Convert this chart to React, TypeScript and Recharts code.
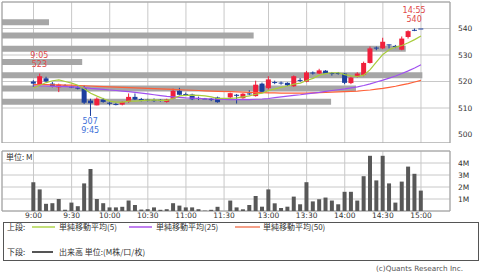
import React from 'react';
import {
  ComposedChart,
  BarChart,
  Bar,
  Line,
  XAxis,
  YAxis,
  CartesianGrid,
  ReferenceArea,
  ReferenceDot,
} from 'recharts';

// 5-minute slots: morning session, 11:30 close slot, afternoon session
const times = [
  '9:00', '9:05', '9:10', '9:15', '9:20', '9:25', '9:30', '9:35', '9:40', '9:45',
  '9:50', '9:55', '10:00', '10:05', '10:10', '10:15', '10:20', '10:25', '10:30', '10:35',
  '10:40', '10:45', '10:50', '10:55', '11:00', '11:05', '11:10', '11:15', '11:20', '11:25',
  '11:30',
  '12:30', '12:35', '12:40', '12:45', '12:50', '12:55', '13:00', '13:05', '13:10',
  '13:15', '13:20', '13:25', '13:30', '13:35', '13:40', '13:45', '13:50', '13:55', '14:00',
  '14:05', '14:10', '14:15', '14:20', '14:25', '14:30', '14:35', '14:40', '14:45', '14:50',
  '14:55', '15:00',
];

const open = [
  520, 519, 521.2, 519.2, 517.8, 518.5, 518.1, 517.8, 517.5, 512.8,
  511, 513.2, 512, 511.5, 511.3, 512.3, 514.2, 513.4, 513.2, 513,
  513.1, 512.3, 513.5, 516.5, 515.3, 515.1, 513.8, 513.6, 513.5, 514,
  null,
  514, 515, 513.7, 515.5, 514.5, 519.2, 517.5, 519.8, 519.6,
  519.5, 518.2, 520.6, 519.9, 523.4, 523, 524.1, 523.2, 523.2, 523,
  519.4, 521.8, 522.5, 527, 532.8, 532.5, 534, 533.4, 532, 536.8,
  539.5, 540,
];
const high = [
  520.5, 523, 521.8, 519.8, 519.2, 519, 518.5, 518.2, 518.5, 513.5,
  514, 513.8, 512.5, 512, 512.5, 515.5, 515.5, 513.8, 513.5, 513.6,
  513.4, 513.5, 517.3, 517.6, 515.8, 515.4, 514.3, 513.8, 513.8, 514.3,
  null,
  515.8, 515.3, 515.6, 516.7, 520.3, 519.6, 522, 520.3, 520,
  519.7, 522.3, 521.3, 524, 523.8, 524.8, 524.3, 523.6, 523.6, 523.2,
  521.8, 523.5, 527.5, 533.2, 533.2, 536.5, 534, 533.8, 537, 539.3,
  540, 540,
];
const low = [
  518, 518.5, 519.8, 517.8, 516, 518, 517.5, 517, 511.5, 507,
  511, 512, 511, 511, 511, 512, 513, 512.5, 512.5, 512.3,
  512.4, 512, 513.3, 514.8, 514.8, 513, 513, 513.4, 512.6, 512,
  null,
  513.8, 511.7, 513.5, 514.8, 514.3, 515.8, 517, 519, 518.8,
  518.3, 518, 519.8, 519.7, 522.6, 522.8, 522.8, 522.2, 522.6, 519,
  519, 521.5, 522, 526.8, 531.8, 532.2, 532.5, 532.6, 531.8, 536.2,
  539, 540,
];
const close = [
  519.2, 522, 520, 518.3, 518.8, 518.2, 517.8, 517.3, 512, 511.8,
  513.5, 512.3, 511.6, 511.3, 512.2, 514.2, 513.2, 512.8, 512.8, 512.8,
  512.7, 513.2, 516.5, 515, 515, 513.3, 513.4, 513.5, 513, 512.2,
  null,
  515.6, 514.6, 515.4, 515.2, 518.8, 516.1, 520.8, 519.6, 519.3,
  518.6, 522, 520.3, 523.4, 523.1, 524.2, 523, 523, 523, 519.5,
  521.5, 523, 527, 532.5, 532.5, 535, 533.8, 533.2, 536.2, 539,
  539.2, 540,
];

// volume, millions of shares
const volume = [
  2.4, 1.8, 0.6, 0.65, 1.0, 0.1, 0.7, 0.4, 2.3, 3.5,
  1.0, 0.65, 0.3, 0.3, 0.35, 0.87, 0.5, 0.12, 0.15, 0.3,
  0.1, 0.15, 0.65, 0.45, 0.3, 0.3, 0.15, 0.03, 0.1, 0.35,
  null,
  0.87, 0.3, 0.14, 0.5, 1.26, 0.36, 1.8, 0.64, 0.25,
  0.36, 1.2, 0.56, 2.4, 0.8, 0.98, 1.12, 0.87, 0.56, 1.6,
  1.6, 0.87, 2.9, 4.6, 2.55, 4.6, 2.3, 0.7, 2.45, 3.7,
  3.1, 1.7,
];

const ma5 = [
  517.6, 518.6, 519.6, 520.3, 520.6, 520.0, 519.4, 518.6, 517.3, 515.6,
  514.5, 513.5, 512.6, 512.2, 512.2, 512.6, 512.6, 512.8, 513.0, 513.1,
  512.9, 512.9, 513.6, 514.6, 514.8, 514.9, 514.8, 514.6, 514.2, 513.6,
  null,
  513.6, 513.8, 514.2, 514.6, 515.2, 515.6, 516.6, 517.2, 517.8,
  518.3, 519.0, 519.4, 520.4, 521.2, 522.4, 523.0, 523.3, 523.3, 522.6,
  522.1, 521.9, 522.4, 524.5, 527.4, 530.2, 532.0, 533.0, 533.6, 534.6,
  535.8, 537.2,
];
const ma25 = [
  518.3, 518.3, 518.3, 518.2, 518.2, 518.1, 518.0, 517.9, 517.7, 517.4,
  517.2, 517.0, 516.8, 516.6, 516.4, 516.2, 515.9, 515.6, 515.3, 515.0,
  514.7, 514.4, 514.2, 514.0, 513.8, 513.7, 513.6, 513.5, 513.4, 513.3,
  null,
  513.2, 513.2, 513.2, 513.2, 513.3, 513.4, 513.6, 513.9, 514.2,
  514.5, 514.8, 515.0, 515.3, 515.6, 515.9, 516.3, 516.6, 516.9, 517.2,
  517.6, 518.0, 518.5, 519.1, 519.8, 520.5, 521.3, 522.1, 523.0, 524.0,
  525.1, 526.3,
];
const ma50 = [
  518.8, 518.8, 518.8, 518.7, 518.7, 518.6, 518.6, 518.5, 518.4, 518.3,
  518.2, 518.1, 518.0, 517.9, 517.8, 517.7, 517.6, 517.5, 517.4, 517.3,
  517.2, 517.1, 517.0, 516.9, 516.8, 516.7, 516.6, 516.5, 516.4, 516.3,
  null,
  516.2, 516.1, 516.0, 515.9, 515.8, 515.8, 515.7, 515.7, 515.6,
  515.6, 515.6, 515.6, 515.6, 515.7, 515.8, 515.9, 516.0, 516.1, 516.2,
  516.3, 516.4, 516.6, 516.8, 517.1, 517.4, 517.8, 518.2, 518.7, 519.2,
  519.8, 520.4,
];

// volume-by-price profile (5 yen buckets), millions of shares
const profilePrice = [542.5, 537.5, 532.5, 527.5, 522.5, 517.5, 512.5];
const profileVol = [1.7, 9.1, 14.6, 2.9, 15.2, 12.8, 11.9];

const timeTicks = [0, 6, 12, 18, 24, 30, 37, 43, 49, 55, 61];
const priceTicks = [500, 510, 520, 530, 540];
const volTicks = [1, 2, 3, 4];

// high / low annotations
const marks = [
  { i: 1, p: 523, t: '9:05', kind: 'high' },
  { i: 9, p: 507, t: '9:45', kind: 'low' },
  { i: 60, p: 540, t: '14:55', kind: 'high' },
];

const T_DOMAIN: [number, number] = [-4.96, 65.57];
const P_DOMAIN: [number, number] = [496.8, 550];
const V_DOMAIN: [number, number] = [0, 5];

const UP = '#f0203c';
const DOWN = '#1c3f9e';
const GRID = '#c8c8c8';
const BORDER = '#a0a0a0';
const FONT = "'DejaVu Sans', 'Noto Sans CJK JP', sans-serif";
const JP_FONT = "'Noto Sans CJK JP', sans-serif";

const rows = times.map((t, i) => ({
  i,
  t,
  o: open[i],
  h: high[i],
  l: low[i],
  c: close[i],
  hl: open[i] == null ? null : [low[i], high[i]],
  v: volume[i],
  ma5: ma5[i],
  ma25: ma25[i],
  ma50: ma50[i],
}));

const profile = profilePrice.map((p, k) => ({ p, v: profileVol[k] }));

const Candle = (props: any) => {
  const { x, y, width, height, payload } = props;
  if (!payload || payload.o == null) return null;
  const { o, h, l, c } = payload;
  const k = h > l ? height / (h - l) : 0;
  const yo = y + (h - o) * k;
  const yc = y + (h - c) * k;
  const col = c > o ? UP : DOWN;
  const mid = x + width / 2;
  const top = Math.min(yo, yc);
  const bh = Math.max(1, Math.abs(yo - yc));
  return (
    <g>
      <line x1={mid} x2={mid} y1={y} y2={y + height} stroke={col} strokeWidth={1} />
      <rect x={x - 0.5} y={top} width={width + 1} height={bh} fill={col} />
    </g>
  );
};

const MarkLabel = (props: any) => {
  const { cx, cy, m } = props;
  const isHigh = m.kind === 'high';
  const col = isHigh ? '#e04848' : '#4070d8';
  const lines = isHigh ? [m.t, String(m.p)] : [String(m.p), m.t];
  const offs = isHigh ? [-18, -9] : [6, 15];
  return (
    <g>
      {lines.map((s, k) => (
        <text key={k} x={cx - 0.5} y={cy + offs[k]} fill={col} fontSize={8} textAnchor="middle" dominantBaseline="central" fontFamily={FONT}>
          {s}
        </text>
      ))}
    </g>
  );
};

const abs = (left: number, top: number, extra: React.CSSProperties = {}): React.CSSProperties => ({
  position: 'absolute',
  left,
  top,
  ...extra,
});

const txt: React.CSSProperties = { fontSize: 8, lineHeight: '10px', whiteSpace: 'nowrap', color: '#333', fontFamily: JP_FONT };

const App: React.FC = () => {
  const tick = { fontSize: 7.5, fill: '#333', fontFamily: FONT };
  return (
    <div style={{ position: 'absolute', left: 0, top: 0, width: 480, height: 272, background: '#fff', fontFamily: FONT, overflow: 'hidden' }}>
      {/* price panel: grid layer */}
      <div style={abs(0, 0)}>
        <ComposedChart width={480} height={143} data={rows} margin={{ top: 2, right: 30, bottom: 0, left: 2 }}>
          <XAxis dataKey="i" type="number" domain={T_DOMAIN} ticks={timeTicks} hide allowDataOverflow />
          <YAxis type="number" domain={P_DOMAIN} ticks={priceTicks} hide allowDataOverflow />
          <CartesianGrid stroke={GRID} />
        </ComposedChart>
      </div>

      {/* price panel: volume-by-price profile */}
      <div style={abs(0, 0)}>
        <BarChart layout="vertical" width={480} height={143} data={profile} margin={{ top: 2, right: 30, bottom: 0, left: 2 }}>
          <XAxis type="number" domain={[0, 16.2]} hide allowDataOverflow />
          <YAxis type="number" dataKey="p" domain={P_DOMAIN} reversed hide allowDataOverflow />
          <Bar dataKey="v" barSize={6} fill="#a6a6a6" isAnimationActive={false} />
        </BarChart>
      </div>

      {/* price panel: candles, averages, annotations */}
      <div style={abs(0, 0)}>
        <ComposedChart width={480} height={143} data={rows} margin={{ top: 2, right: 0, bottom: 0, left: 2 }}>
          <XAxis dataKey="i" type="number" domain={T_DOMAIN} hide allowDataOverflow />
          <YAxis
            orientation="right"
            type="number"
            domain={P_DOMAIN}
            ticks={priceTicks}
            interval={0}
            width={30}
            axisLine={false}
            tickLine={false}
            tick={tick}
            allowDataOverflow
          />
          <ReferenceArea x1={T_DOMAIN[0]} x2={T_DOMAIN[1]} y1={P_DOMAIN[0]} y2={P_DOMAIN[1]} fill="none" stroke={BORDER} fillOpacity={0} />
          <Bar dataKey="hl" barSize={4} shape={Candle} isAnimationActive={false} />
          <Line dataKey="ma50" type="linear" stroke="#ff6038" strokeWidth={1.2} dot={false} connectNulls isAnimationActive={false} />
          <Line dataKey="ma25" type="linear" stroke="#a050f0" strokeWidth={1.2} dot={false} connectNulls isAnimationActive={false} />
          <Line dataKey="ma5" type="linear" stroke="#a8cc3c" strokeWidth={1.2} dot={false} connectNulls isAnimationActive={false} />
          {marks.map((m) => (
            <ReferenceDot key={m.t} x={m.i} y={m.p} r={0} shape={(p: any) => <MarkLabel {...p} m={m} />} />
          ))}
        </ComposedChart>
      </div>

      {/* volume panel */}
      <div style={abs(0, 0)}>
        <ComposedChart width={480} height={222} data={rows} margin={{ top: 151, right: 0, bottom: 0, left: 2 }}>
          <CartesianGrid stroke={GRID} />
          <XAxis
            dataKey="i"
            type="number"
            domain={T_DOMAIN}
            ticks={timeTicks}
            interval={0}
            tickFormatter={(i: number) => times[i]}
            axisLine={false}
            tickLine={false}
            tickSize={0}
            tickMargin={2}
            height={11}
            tick={tick}
            allowDataOverflow
          />
          <YAxis
            orientation="right"
            type="number"
            domain={V_DOMAIN}
            ticks={volTicks}
            interval={0}
            tickFormatter={(v: number) => `${v}M`}
            width={30}
            axisLine={false}
            tickLine={false}
            tick={tick}
            allowDataOverflow
          />
          <ReferenceArea x1={T_DOMAIN[0]} x2={T_DOMAIN[1]} y1={V_DOMAIN[0]} y2={V_DOMAIN[1]} fill="none" stroke={BORDER} fillOpacity={0} />
          <Bar dataKey="v" barSize={4} fill="#585858" isAnimationActive={false} />
        </ComposedChart>
      </div>
      <div style={abs(6, 152, txt)}>単位: M</div>

      {/* legend box */}
      <div style={abs(3, 222, { width: 474, height: 37, border: '1px solid #555' })} />
      <div style={abs(7, 222, txt)}>上段:</div>
      <div style={abs(32, 226, { width: 23, height: 1.5, background: '#c4e07a' })} />
      <div style={abs(59, 222, txt)}>単純移動平均(5)</div>
      <div style={abs(129, 226, { width: 23, height: 1.5, background: '#c080f0' })} />
      <div style={abs(156, 222, txt)}>単純移動平均(25)</div>
      <div style={abs(235, 226, { width: 25, height: 1.5, background: '#f5a088' })} />
      <div style={abs(263, 222, txt)}>単純移動平均(50)</div>
      <div style={abs(7, 247, txt)}>下段:</div>
      <div style={abs(32, 251, { width: 21, height: 2, background: '#555' })} />
      <div style={abs(59, 247, txt)}>出来高 単位:(M株/口/枚)</div>

      <div style={abs(376, 264, { ...txt, fontSize: 7.3, color: '#555', fontFamily: FONT })}>(c)Quants Research Inc.</div>
    </div>
  );
};

export default App;
